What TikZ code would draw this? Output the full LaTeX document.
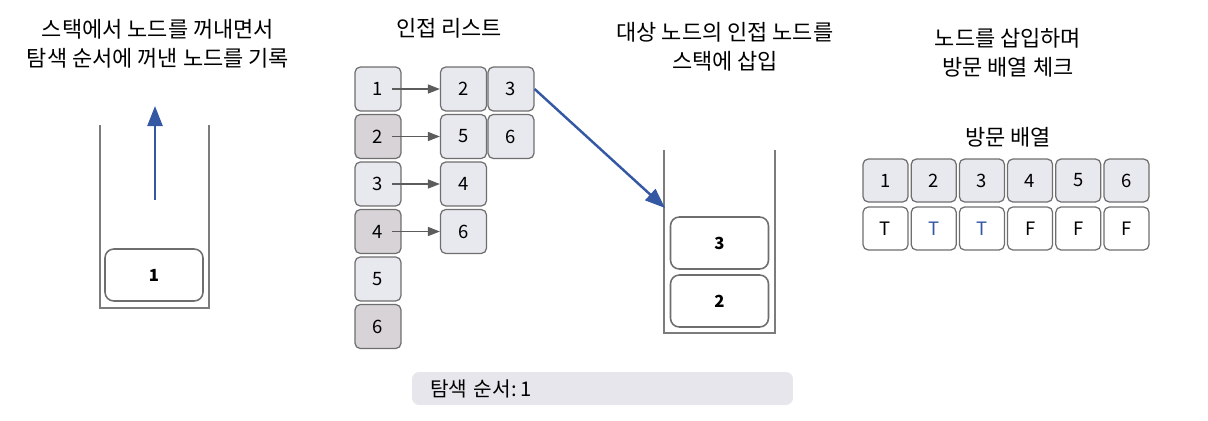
\documentclass[tikz,border=0pt]{standalone}
\usepackage{fontspec}
\setmainfont{Noto Sans CJK KR}
\usetikzlibrary{arrows.meta}
\definecolor{Cell}{HTML}{E8E8EF}
\definecolor{CellDark}{HTML}{D7D3D7}
\definecolor{Edge}{HTML}{6E6E6E}
\definecolor{Wall}{HTML}{7C7C7C}
\definecolor{Link}{HTML}{5C5C5C}
\definecolor{Push}{HTML}{3458A4}
\definecolor{Bar}{HTML}{E6E6EC}

\begin{document}
\begin{tikzpicture}[
  x=0.02cm, y=-0.02cm,
  title/.style={font=\fontsize{12.5}{16.5}\selectfont, align=center, inner sep=0pt},
  cell/.style={rounded corners=3pt, draw=Edge, line width=.7pt, fill=Cell,
    minimum width=.92cm, minimum height=.88cm, inner sep=0pt,
    font=\fontsize{10.5}{10.5}\selectfont},
  vcell/.style={cell, minimum width=.90cm, minimum height=.86cm},
  item/.style={rounded corners=5pt, draw=Edge, line width=.9pt, fill=white,
    minimum width=1.96cm, minimum height=1.04cm, inner sep=0pt,
    font=\fontsize{9.5}{9.5}\selectfont\bfseries},
  wall/.style={draw=Wall, line width=.8pt},
  link/.style={-{Triangle[length=2.4mm,width=1.8mm]}, line width=.9pt, draw=Link},
  push/.style={-{Triangle[length=4mm,width=3mm]}, line width=1.4pt, draw=Push},
  bar/.style={rounded corners=4pt, fill=Bar, minimum height=.66cm,
    text width=6.9cm, inner xsep=.36cm, align=left,
    font=\fontsize{11.5}{11.5}\selectfont}
]
\useasboundingbox (0,0) rectangle (1208,420);

% Left: stack after popping node 1.
\node[title] (popTitle) at (158,44)
  {스택에서 노드를 꺼내면서\\탐색 순서에 꺼낸 노드를 기록};
\draw[wall] (100,125) |- (209,308) -- (209,125);
\node[item] (stk1) at (154,275) {1};
\coordinate (popTail) at (155,200);
\coordinate (popHead) at (155,106);
\draw[push] (popTail) -- (popHead);

% Middle: adjacency list.
\node[title] (adjTitle) at (449,28) {인접 리스트};
\foreach \n/\c in {1/Cell,2/CellDark,3/Cell,4/CellDark,5/Cell,6/CellDark}
  \node[cell, fill=\c] (a\n) at (378,{89+47.5*(\n-1)}) {\n};
\node[cell] (n11) at (463.5,89) {2};
\node[cell] (n12) at (511,89) {3};
\node[cell] (n21) at (463.5,136.5) {5};
\node[cell] (n22) at (511,136.5) {6};
\node[cell] (n31) at (463.5,184) {4};
\node[cell] (n41) at (463.5,231.5) {6};
\foreach \r in {1,2,3,4}
  \draw[link] ([xshift=.28cm]a\r.center) -- (n\r1.west);

% Middle right: neighbours pushed onto the stack.
\node[title] (pushTitle) at (725,47)
  {대상 노드의 인접 노드를\\스택에 삽입};
\draw[wall] (664,150) |- (775,333) -- (775,150);
\node[item] (stk3) at (719.5,243) {3};
\node[item] (stk2) at (719.5,301) {2};
\coordinate (pushPt) at (665,208);
\draw[push] (n12.east) -- (pushPt);

% Right: visited array.
\node[title] (visTitle) at (1008,53)
  {노드를 삽입하며\\방문 배열 체크};
\node[title] (visName) at (1008,137) {방문 배열};
\foreach \n/\v/\t in {1/T/black,2/T/Push,3/T/Push,4/F/black,5/F/black,6/F/black} {
  \node[vcell] (v\n) at ({885.5+48.2*(\n-1)},180.5) {\n};
  \node[vcell, fill=white, text=\t] (f\n) at ({885.5+48.2*(\n-1)},228.5) {\v};
}

% Bottom: search order.
\node[bar] (order) at (602.5,388.5) {탐색 순서:\,1};
\end{tikzpicture}
\end{document}
